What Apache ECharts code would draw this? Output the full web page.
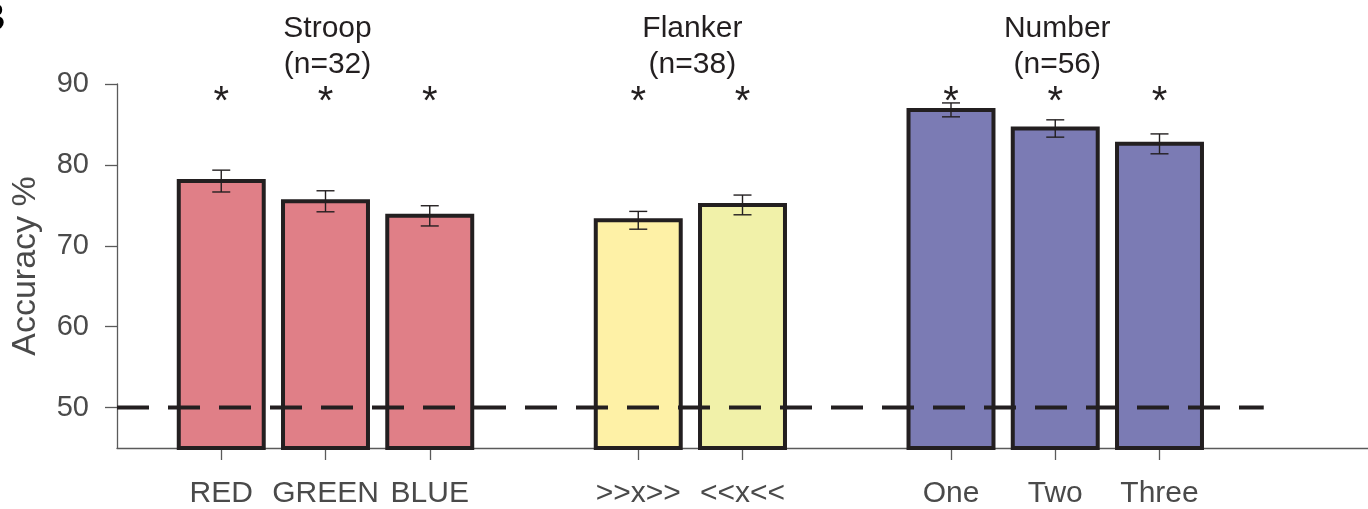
<!DOCTYPE html>
<html>
<head>
<meta charset="utf-8">
<script src="https://cdn.jsdelivr.net/npm/echarts@6/dist/echarts.min.js"></script>
<style>
  html, body { margin: 0; padding: 0; background: #fff; }
  #chart { width: 1368px; height: 509px; }
</style>
</head>
<body>
<div id="chart"></div>
<script>
// Conditions, in drawing order
const categories = ['RED', 'GREEN', 'BLUE', '>>x>>', '<<x<<', 'One', 'Two', 'Three'];
// Mean decoding accuracy (%) and standard error per condition
const accuracy = [78.0, 75.5, 73.7, 73.15, 75.05, 86.8, 84.5, 82.6];
const sem = [1.35, 1.3, 1.25, 1.1, 1.22, 0.86, 1.07, 1.23];
// Above-chance marker per condition
const significant = [true, true, true, true, true, true, true, true];
// Tasks: title, subject count, number of conditions
const taskNames = ['Stroop', 'Flanker', 'Number'];
const taskN = [32, 38, 56];
const taskSizes = [3, 2, 3];
const conditionFills = ['#E07F87', '#E07F87', '#E07F87', '#FEF1A6', '#F1F1A9', '#7B7BB4', '#7B7BB4', '#7B7BB4'];
// Y axis
const yTicks = [50, 60, 70, 80, 90];
const Y_MIN = 45, Y_MAX = 90;
const chance = 50;

// Slot layout: one empty slot before each task and one after the last
const positions = [];
const taskCenters = [];
let slot = 1;
taskSizes.forEach((size) => {
  const start = slot;
  for (let i = 0; i < size; i++) positions.push(slot++);
  taskCenters.push((start + slot - 1) / 2);
  slot++;
});
const X_MAX = slot;              // 12
const CHANCE_END = slot - 1;     // 11

const INK = '#231F20';
const AXIS = '#5a5a5a';
const LABEL = '#4a4a4a';
const FONT = 'Liberation Sans, Arial, Helvetica, sans-serif';
const BAR_FRACTION = 0.815;

const barData = categories.map((c, i) => [positions[i], accuracy[i], i]);
const errData = categories.map((c, i) => [positions[i], accuracy[i], sem[i]]);
const starData = categories.map((c, i) => [positions[i], significant[i] ? 1 : 0]);
const titleData = taskNames.map((n, t) => [taskCenters[t], t]);

const nameAt = {};
positions.forEach((p, i) => { nameAt[p] = categories[i]; });

const chart = echarts.init(document.getElementById('chart'), null, { renderer: 'canvas' });
chart.setOption({
  animation: false,
  backgroundColor: '#fff',
  grid: { left: 117, right: 0, top: 84, bottom: 60, containLabel: false },
  graphic: [{
    type: 'text',
    left: -22, top: 1,
    style: { text: 'B', font: 'bold 38px ' + FONT, fill: '#000' }
  }],
  xAxis: {
    type: 'value',
    min: 0, max: X_MAX,
    splitLine: { show: false },
    axisLine: { show: true, onZero: false, lineStyle: { color: AXIS, width: 1.3 } },
    axisTick: { show: true, customValues: positions, length: 12, lineStyle: { color: AXIS, width: 1.3 } },
    axisLabel: {
      customValues: positions,
      formatter: v => nameAt[v] || '',
      margin: 31,
      color: LABEL, fontSize: 30, fontFamily: FONT
    }
  },
  yAxis: {
    type: 'value',
    min: Y_MIN, max: Y_MAX,
    splitLine: { show: false },
    axisLine: { show: true, onZero: false, lineStyle: { color: AXIS, width: 1.3 } },
    axisTick: { show: true, customValues: yTicks, length: 12, lineStyle: { color: AXIS, width: 1.3 } },
    axisLabel: { customValues: yTicks, margin: 28, color: LABEL, fontSize: 29, fontFamily: FONT },
    name: 'Accuracy %',
    nameLocation: 'middle',
    nameGap: 74,
    nameTextStyle: { color: LABEL, fontSize: 34, fontFamily: FONT }
  },
  series: [
    {
      // bars rise from the axis floor, outlined in dark ink
      type: 'custom',
      z: 2,
      data: barData,
      renderItem: (params, api) => {
        const x = api.value(0), v = api.value(1), idx = api.value(2);
        const top = api.coord([x, v]);
        const base = api.coord([x, Y_MIN]);
        const w = api.size([1, 0])[0] * BAR_FRACTION;
        return {
          type: 'rect',
          shape: { x: top[0] - w / 2, y: top[1], width: w, height: base[1] - top[1] },
          style: { fill: conditionFills[idx], stroke: INK, lineWidth: 4 }
        };
      }
    },
    {
      // standard-error whiskers with caps
      type: 'custom',
      z: 3,
      data: errData,
      renderItem: (params, api) => {
        const x = api.value(0), v = api.value(1), e = api.value(2);
        const hi = api.coord([x, v + e]);
        const lo = api.coord([x, v - e]);
        const cap = 9;
        const st = { stroke: INK, lineWidth: 1.4 };
        return {
          type: 'group',
          children: [
            { type: 'line', shape: { x1: hi[0], y1: hi[1], x2: lo[0], y2: lo[1] }, style: st },
            { type: 'line', shape: { x1: hi[0] - cap, y1: hi[1], x2: hi[0] + cap, y2: hi[1] }, style: st },
            { type: 'line', shape: { x1: lo[0] - cap, y1: lo[1], x2: lo[0] + cap, y2: lo[1] }, style: st }
          ]
        };
      }
    },
    {
      // significance asterisks just under the top of the axis
      type: 'custom',
      z: 3,
      data: starData,
      renderItem: (params, api) => {
        if (!api.value(1)) return null;
        const p = api.coord([api.value(0), Y_MAX]);
        return {
          type: 'text',
          style: {
            text: '*', x: p[0], y: p[1] + 19,
            font: '40px ' + FONT, fill: INK, align: 'center', verticalAlign: 'middle'
          }
        };
      }
    },
    {
      // task titles above each group
      type: 'custom',
      z: 3,
      clip: false,
      data: titleData,
      renderItem: (params, api) => {
        const t = api.value(1);
        const p = api.coord([api.value(0), Y_MAX]);
        return {
          type: 'text',
          style: {
            text: taskNames[t] + '\n(n=' + taskN[t] + ')',
            x: p[0] + 2, y: p[1] - 1,
            font: '30px ' + FONT, lineHeight: 36, fill: INK,
            align: 'center', verticalAlign: 'bottom'
          }
        };
      }
    },
    {
      // chance level
      type: 'line',
      z: 5,
      symbol: 'none',
      silent: true,
      data: [[0, chance], [CHANCE_END, chance]],
      lineStyle: { color: INK, width: 4, type: [32, 19], cap: 'butt' }
    }
  ]
});
</script>
</body>
</html>
